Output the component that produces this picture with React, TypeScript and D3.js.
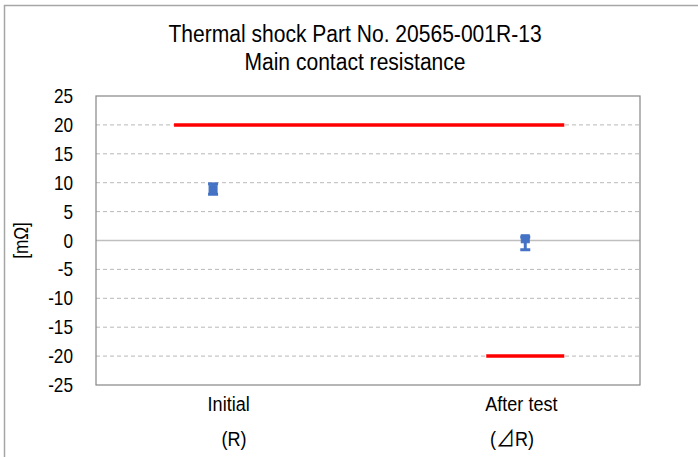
import React from 'react';
import * as d3 from 'd3';

const W = 698;
const H = 457;

// chart values
const titleLines = ['Thermal shock Part No. 20565-001R-13', 'Main contact resistance'];
const yTicks = [25, 20, 15, 10, 5, 0, -5, -10, -15, -20, -25];
const pointX = [1.5, 5.5];
const pointMean = [8.8, 0.3];
const pointMax = [9.8, 0.6];
const pointMin = [8.0, -1.6];
const upperLimitX = [1, 6];
const upperLimitY = [20, 20];
const lowerLimitX = [5, 6];
const lowerLimitY = [-20, -20];
const catLabelX = [1.7, 5.45];
const catLabels = ['Initial', 'After test'];
const catSubLabels = ['(R)', '(⊿R)'];

const FONT = "'Liberation Sans', Arial, sans-serif";
const SQ = 0.86; // condense the sans to look like Arial Narrow

// text squeezed horizontally around its anchor
const Narrow = ({ x, y, size, anchor = 'middle', children }: any) => (
  <g transform={`translate(${x},${y}) scale(${SQ},1)`}>
    <text x={0} y={0} textAnchor={anchor} fontSize={size} fill="#000">{children}</text>
  </g>
);

// the ⊿ glyph is drawn from a CJK font so it is as big as in the original
const withDelta = (s: string) =>
  s.split(/(⊿)/).map((part, i) =>
    part === '⊿'
      ? <tspan key={i} fontFamily="'Noto Sans CJK JP', sans-serif" fontSize={22}>{part}</tspan>
      : <tspan key={i}>{part}</tspan>
  );

export default function App() {
  const margin = { left: 96, right: 58, top: 96, bottom: 72 };
  const x = d3.scaleLinear().domain([0, 6.97]).range([margin.left, W - margin.right]);
  const y = d3.scaleLinear().domain([-25, 25]).range([H - margin.bottom, margin.top]);

  const line = d3.line<[number, number]>().x(d => x(d[0])).y(d => y(d[1]));
  const upper = d3.zip(upperLimitX, upperLimitY) as [number, number][];
  const lower = d3.zip(lowerLimitX, lowerLimitY) as [number, number][];

  const [x0, x1] = x.range();
  const [yb, yt] = y.range();
  const blue = '#4472C4';
  const subX = [234, 512];

  return (
    <svg width={W} height={H} style={{ position: 'absolute', left: 0, top: 0, background: '#fff' }} fontFamily={FONT}>
      <rect x={4.5} y={5.5} width={W + 20} height={H + 20} fill="#fff" stroke="#a6a6a6" strokeWidth={1.5} />
      {titleLines.map((t, i) => (
        <Narrow key={t} x={355} y={42 + i * 28} size={24.5}>{t}</Narrow>
      ))}

      {yTicks.map(v => (
        v === 25 || v === -25 ? null :
        <line key={v} x1={x0} x2={x1} y1={y(v)} y2={y(v)}
          stroke={v === 0 ? '#bfbfbf' : '#a6a6a6'} strokeWidth={v === 0 ? 1.5 : 0.8}
          strokeDasharray={v === 0 ? undefined : '4,3'} />
      ))}
      <rect x={x0} y={yt} width={x1 - x0} height={yb - yt} fill="none" stroke="#868686" strokeWidth={1.2} />

      {yTicks.map(v => (
        <Narrow key={'t' + v} x={73} y={y(v) + 7} size={20} anchor="end">{v}</Narrow>
      ))}
      <g transform={`translate(28,${y(0)}) rotate(-90) scale(${SQ},1)`}>
        <text textAnchor="middle" fontSize={20} fill="#000">[mΩ]</text>
      </g>

      <path d={line(upper) || ''} stroke="#ff0000" strokeWidth={3.5} fill="none" />
      <path d={line(lower) || ''} stroke="#ff0000" strokeWidth={3.5} fill="none" />

      {pointX.map((px, i) => (
        <g key={'p' + i} fill={blue} stroke={blue}>
          <line x1={x(px)} x2={x(px)} y1={y(pointMax[i])} y2={y(pointMin[i])} strokeWidth={3} />
          <line x1={x(px) - 5} x2={x(px) + 5} y1={y(pointMax[i])} y2={y(pointMax[i])} strokeWidth={3} />
          <line x1={x(px) - 5} x2={x(px) + 5} y1={y(pointMin[i])} y2={y(pointMin[i])} strokeWidth={3} />
          <rect x={x(px) - 4} y={y(pointMean[i]) - 4} width={8} height={8} strokeWidth={1} />
        </g>
      ))}

      {catLabels.map((c, i) => (
        <Narrow key={c} x={x(catLabelX[i])} y={411} size={21}>{c}</Narrow>
      ))}
      {catSubLabels.map((s, i) => (
        <Narrow key={s} x={subX[i]} y={446} size={21}>{withDelta(s)}</Narrow>
      ))}
    </svg>
  );
}
